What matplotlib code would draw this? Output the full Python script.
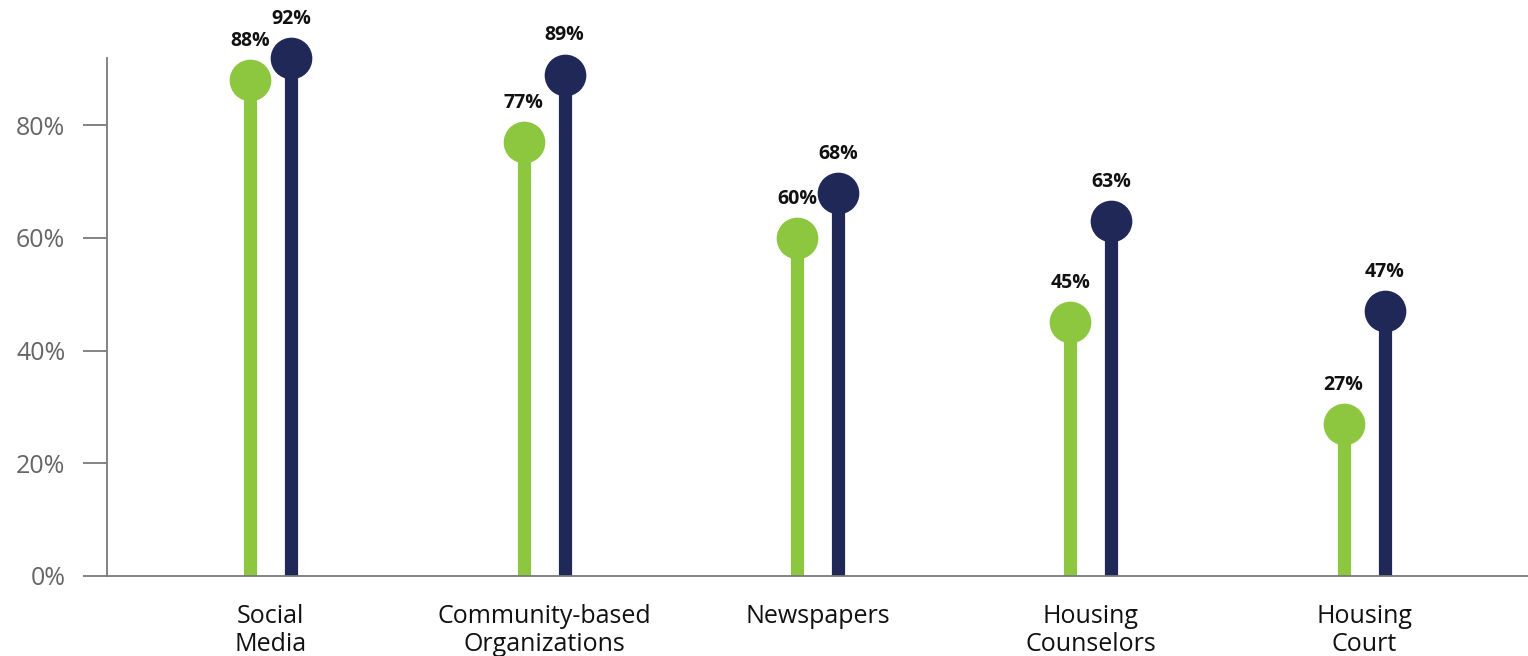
import numpy as np
import matplotlib
matplotlib.use("Agg")
import matplotlib.pyplot as plt

categories = ["Social\nMedia", "Community-based\nOrganizations", "Newspapers",
              "Housing\nCounselors", "Housing\nCourt"]
green_vals = [88, 77, 60, 45, 27]
navy_vals = [92, 89, 68, 63, 47]

GREEN = "#8DC63F"
NAVY = "#1F2857"
GREY = "#7a7a7a"

plt.rcParams["font.family"] = ["Open Sans", "DejaVu Sans"]

fig = plt.figure(figsize=(15.28, 6.56), dpi=100)
ax = fig.add_axes([0.070, 0.122, 0.930, 0.790])

x = np.arange(len(categories))
offset = 0.075

for vals, col, dx in [(green_vals, GREEN, -offset), (navy_vals, NAVY, offset)]:
    xs = x + dx
    ax.vlines(xs, 0, vals, color=col, linewidth=9.5, zorder=2)
    ax.plot(xs, vals, "o", color=col, markersize=29, zorder=3, clip_on=False)
    for xi, v in zip(xs, vals):
        ax.annotate(f"{v}%", (xi, v), xytext=(0, 21), textcoords="offset points",
                    ha="center", va="bottom", fontsize=14, fontweight="bold",
                    color="#111111", annotation_clip=False)

ax.set_xlim(-0.6, 4.6)
ax.set_ylim(0, 92)
ax.set_yticks([0, 20, 40, 60, 80])
ax.set_yticklabels([f"{t}%" for t in [0, 20, 40, 60, 80]])
ax.set_xticks(x)
ax.set_xticklabels(categories, fontsize=18, color="#111111", linespacing=1.15)

ax.tick_params(axis="x", length=0, pad=20)
ax.tick_params(axis="y", length=17, width=1.3, color=GREY, labelsize=18,
               labelcolor="#666666", pad=13)

for s in ["top", "right"]:
    ax.spines[s].set_visible(False)
for s in ["left", "bottom"]:
    ax.spines[s].set_color(GREY)
    ax.spines[s].set_linewidth(1.3)

fig.savefig("out.png", dpi=100)
